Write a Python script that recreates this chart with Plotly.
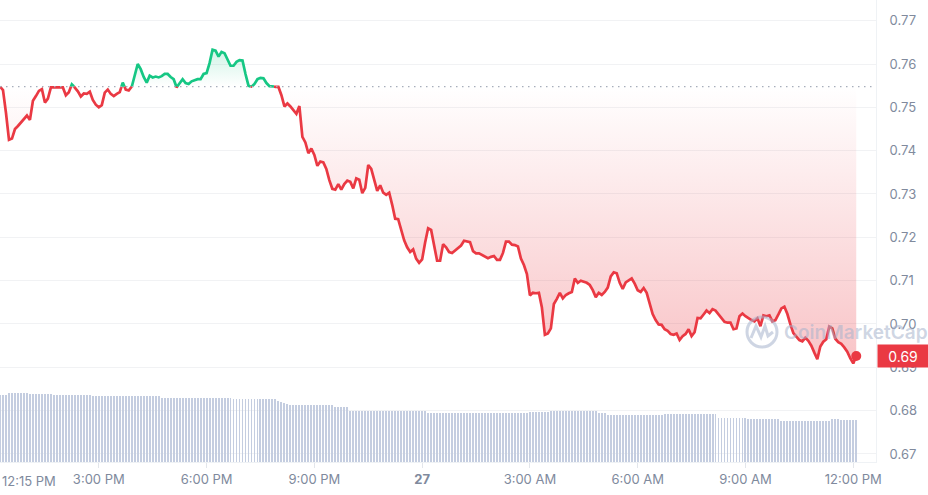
import pandas as pd
import plotly.graph_objects as go

# ---------------- data (5-minute candles, 12:15 PM on the 26th -> 12:05 PM on the 27th) ----------------
START = "2025-03-26 12:15"
STEP = "5min"
X_END = "2025-03-27 12:38"

price = [
    0.7548, 0.7540, 0.7487, 0.7425, 0.7428, 0.7450, 0.7457, 0.7465, 0.7472, 0.7481,
    0.7471, 0.7515, 0.7526, 0.7538, 0.7542, 0.7511, 0.7520, 0.7546, 0.7546, 0.7546,
    0.7546, 0.7546, 0.7528, 0.7535, 0.7553, 0.7546, 0.7537, 0.7525, 0.7532, 0.7531,
    0.7536, 0.7517, 0.7506, 0.7500, 0.7505, 0.7534, 0.7541, 0.7531, 0.7526, 0.7531,
    0.7535, 0.7557, 0.7541, 0.7539, 0.7547, 0.7576, 0.7600, 0.7588, 0.7570, 0.7557,
    0.7573, 0.7569, 0.7571, 0.7569, 0.7572, 0.7577, 0.7577, 0.7570, 0.7565, 0.7546,
    0.7556, 0.7565, 0.7556, 0.7554, 0.7560, 0.7563, 0.7565, 0.7565, 0.7577, 0.7579,
    0.7602, 0.7633, 0.7631, 0.7617, 0.7628, 0.7625, 0.7610, 0.7596, 0.7596, 0.7605,
    0.7609, 0.7608, 0.7577, 0.7550, 0.7547, 0.7554, 0.7565, 0.7568, 0.7567, 0.7556,
    0.7549, 0.7549, 0.7547, 0.7547, 0.7528, 0.7502, 0.7509, 0.7502, 0.7492, 0.7485,
    0.7503, 0.7432, 0.7419, 0.7394, 0.7405, 0.7390, 0.7365, 0.7375, 0.7373, 0.7358,
    0.7332, 0.7312, 0.7310, 0.7323, 0.7310, 0.7323, 0.7331, 0.7328, 0.7313, 0.7336,
    0.7333, 0.7302, 0.7314, 0.7367, 0.7358, 0.7330, 0.7307, 0.7320, 0.7303, 0.7298,
    0.7303, 0.7275, 0.7243, 0.7242, 0.7217, 0.7193, 0.7177, 0.7166, 0.7172, 0.7151,
    0.7141, 0.7149, 0.7188, 0.7221, 0.7217, 0.7181, 0.7146, 0.7146, 0.7184, 0.7177,
    0.7166, 0.7164, 0.7170, 0.7177, 0.7181, 0.7192, 0.7190, 0.7189, 0.7168, 0.7163,
    0.7163, 0.7159, 0.7154, 0.7152, 0.7155, 0.7157, 0.7148, 0.7148, 0.7164, 0.7190,
    0.7190, 0.7183, 0.7182, 0.7179, 0.7151, 0.7136, 0.7115, 0.7066, 0.7072, 0.7071,
    0.7072, 0.7038, 0.6975, 0.6978, 0.6990, 0.7046, 0.7058, 0.7072, 0.7059, 0.7067,
    0.7071, 0.7074, 0.7105, 0.7095, 0.7100, 0.7098, 0.7095, 0.7090, 0.7078, 0.7062,
    0.7072, 0.7067, 0.7074, 0.7084, 0.7110, 0.7119, 0.7117, 0.7095, 0.7081, 0.7096,
    0.7100, 0.7105, 0.7093, 0.7078, 0.7074, 0.7083, 0.7072, 0.7048, 0.7023, 0.7009,
    0.6999, 0.6998, 0.6988, 0.6984, 0.6977, 0.6975, 0.6978, 0.6963, 0.6972, 0.6977,
    0.6988, 0.6972, 0.6981, 0.7014, 0.7013, 0.7022, 0.7031, 0.7025, 0.7034, 0.7031,
    0.7022, 0.7014, 0.7005, 0.7003, 0.7003, 0.6988, 0.6990, 0.7018, 0.7024, 0.7018,
    0.7013, 0.7009, 0.7006, 0.7013, 0.6995, 0.7020, 0.7018, 0.7020, 0.7006, 0.7009,
    0.7022, 0.7036, 0.7040, 0.7023, 0.6999, 0.6979, 0.6971, 0.6963, 0.6960, 0.6968,
    0.6961, 0.6950, 0.6934, 0.6919, 0.6948, 0.6959, 0.6965, 0.6994, 0.6990, 0.6966,
    0.6958, 0.6954, 0.6946, 0.6936, 0.6921, 0.6909, 0.6926,
]

# 24h rolling volume (arbitrary units)
volume = [
    67.0, 67.0, 67.0, 68.7, 68.7, 68.7, 68.7, 68.7, 68.7, 68.7,
    67.7, 67.7, 67.7, 67.7, 67.7, 67.7, 67.7, 67.7, 66.7, 66.7,
    66.7, 66.7, 66.7, 66.7, 66.7, 66.7, 66.7, 66.7, 66.7, 66.7,
    66.7, 66.0, 66.0, 66.0, 66.0, 66.0, 66.0, 66.0, 66.0, 66.0,
    66.0, 66.0, 66.0, 66.0, 66.0, 66.0, 66.0, 66.0, 66.0, 66.0,
    66.0, 66.0, 66.0, 66.0, 64.3, 64.3, 64.3, 64.3, 64.3, 64.3,
    64.3, 64.3, 64.3, 64.3, 64.3, 64.3, 64.3, 64.3, 64.3, 64.3,
    64.3, 64.3, 64.3, 64.3, 64.3, 64.3, 64.3, 64.3, 63.0, 63.0,
    63.0, 63.0, 63.0, 63.0, 63.0, 63.0, 63.0, 63.0, 63.0, 63.0,
    63.0, 63.0, 63.0, 61.0, 60.0, 59.0, 58.0, 57.0, 57.0, 57.0,
    57.0, 57.0, 57.0, 57.0, 57.0, 57.0, 57.0, 57.0, 57.0, 57.0,
    57.0, 57.0, 54.7, 54.7, 54.7, 54.7, 54.7, 51.0, 51.0, 51.0,
    51.0, 51.0, 51.0, 51.0, 51.0, 51.0, 51.0, 51.0, 51.0, 51.0,
    51.0, 51.0, 51.0, 51.0, 51.0, 51.3, 51.3, 51.3, 51.3, 51.3,
    51.3, 51.3, 51.3, 49.3, 49.3, 49.3, 49.3, 49.3, 49.3, 49.3,
    49.3, 49.3, 49.3, 49.3, 48.7, 48.7, 48.7, 48.7, 48.7, 48.7,
    48.7, 48.7, 48.7, 48.7, 48.7, 48.7, 48.7, 48.7, 48.7, 48.7,
    48.7, 48.7, 48.7, 48.7, 48.7, 48.7, 48.7, 49.7, 49.7, 49.7,
    49.7, 49.7, 49.7, 49.7, 51.0, 51.0, 51.0, 51.0, 51.0, 51.0,
    51.0, 51.0, 51.0, 51.0, 51.0, 51.0, 51.0, 51.0, 51.0, 51.0,
    48.7, 48.7, 48.7, 47.0, 47.0, 47.0, 47.0, 47.0, 47.0, 47.0,
    47.0, 47.0, 47.0, 47.0, 47.0, 47.0, 47.0, 47.0, 47.0, 47.0,
    47.0, 47.0, 47.7, 47.7, 47.7, 47.7, 47.7, 47.7, 47.7, 47.7,
    47.7, 47.7, 47.7, 47.7, 47.7, 47.7, 47.7, 47.7, 47.7, 47.7,
    44.3, 44.3, 44.3, 44.3, 44.3, 44.3, 44.3, 44.3, 44.3, 44.3,
    42.7, 42.7, 42.7, 42.7, 42.7, 42.7, 42.7, 42.7, 42.7, 42.7,
    42.7, 41.3, 41.3, 41.3, 41.3, 41.3, 41.3, 41.3, 41.3, 41.3,
    41.3, 41.3, 41.3, 41.3, 41.3, 41.3, 41.3, 41.3, 42.7, 42.7,
    42.7, 41.7, 41.7, 41.7, 41.7, 41.7, 41.7,
]

x_tickvals = ["2025-03-26 15:00", "2025-03-26 18:00", "2025-03-26 21:00",
              "2025-03-27 00:00", "2025-03-27 03:00", "2025-03-27 06:00",
              "2025-03-27 09:00", "2025-03-27 12:00"]
x_ticktext = ["3:00 PM", "6:00 PM", "9:00 PM", "<b>27</b>", "3:00 AM",
              "6:00 AM", "9:00 AM", "12:00 PM"]
first_label = "12:15 PM"
y_tickvals = [0.67, 0.68, 0.69, 0.70, 0.71, 0.72, 0.73, 0.74, 0.75, 0.76, 0.77]
watermark = "CoinMarketCap"

# ---------------- styling ----------------
RED = "#ea3943"
GREEN = "#16c784"
TXT = "#808a9d"
FONT = "Inter"

times = list(pd.date_range(START, periods=len(price), freq=STEP))
base = price[0]

# split the series where it crosses the opening price
aug_t, aug_p = [times[0]], [price[0]]
for k in range(1, len(price)):
    p0, p1 = price[k - 1], price[k]
    t0, t1 = times[k - 1], times[k]
    if (p0 - base) * (p1 - base) < 0:
        f = (base - p0) / (p1 - p0)
        aug_t.append(t0 + (t1 - t0) * f)
        aug_p.append(base)
    aug_t.append(t1)
    aug_p.append(p1)

red_line = [p if p <= base else None for p in aug_p]
green_line = [p if p >= base else None for p in aug_p]
low = [min(p, base) for p in aug_p]
high = [max(p, base) for p in aug_p]
baseline = [base] * len(aug_p)

fig = go.Figure()

fig.add_trace(go.Bar(x=times[:len(volume)], y=volume, yaxis="y2", marker_color="#c4cde0",
                     marker_line_width=0, width=95000, hoverinfo="skip",
                     showlegend=False))

fig.add_trace(go.Scatter(x=aug_t, y=baseline, mode="lines", line_width=0,
                         hoverinfo="skip", showlegend=False))
fig.add_trace(go.Scatter(x=aug_t, y=low, mode="lines", line_width=0, fill="tonexty",
                         fillgradient=dict(type="vertical",
                                           colorscale=[[0, "rgba(234,57,67,0.30)"],
                                                       [1, "rgba(234,57,67,0.0)"]]),
                         hoverinfo="skip", showlegend=False))
fig.add_trace(go.Scatter(x=aug_t, y=baseline, mode="lines", line_width=0,
                         hoverinfo="skip", showlegend=False))
fig.add_trace(go.Scatter(x=aug_t, y=high, mode="lines", line_width=0, fill="tonexty",
                         fillgradient=dict(type="vertical",
                                           colorscale=[[0, "rgba(22,199,132,0.0)"],
                                                       [1, "rgba(22,199,132,0.20)"]]),
                         hoverinfo="skip", showlegend=False))

fig.add_trace(go.Scatter(x=aug_t, y=red_line, mode="lines",
                         line=dict(color=RED, width=2.7), connectgaps=False,
                         showlegend=False))
fig.add_trace(go.Scatter(x=aug_t, y=green_line, mode="lines",
                         line=dict(color=GREEN, width=2.7), connectgaps=False,
                         showlegend=False))
fig.add_trace(go.Scatter(x=[times[-1]], y=[price[-1]], mode="markers",
                         marker=dict(color=RED, size=10), showlegend=False))

# opening price dotted line
fig.add_shape(type="line", xref="paper", x0=0, x1=1, yref="y", y0=base, y1=base,
              line=dict(color="#a7aebb", width=1.2, dash="1.5px,4.5px"))

# watermark logo (pixel -> paper helpers)
PW, PH = 876.0, 462.0
def px(x):
    return x / PW
def py(y):
    return (PH - y) / PH

WM = "rgba(165,178,204,0.55)"
fig.add_shape(type="circle", xref="paper", yref="paper",
              x0=px(747), x1=px(777), y0=py(347), y1=py(317),
              line=dict(color=WM, width=3))
pts = [(751, 338), (756, 326), (761, 337), (765, 326), (768, 336), (773, 332)]
path = "M" + " L".join(f"{px(a):.4f},{py(b):.4f}" for a, b in pts)
fig.add_shape(type="path", xref="paper", yref="paper", path=path,
              line=dict(color=WM, width=3))
fig.add_annotation(xref="paper", yref="paper", x=px(782), y=py(332),
                   xanchor="left", yanchor="middle", text=watermark, showarrow=False,
                   font=dict(family=FONT, size=19, color=WM, weight=600))

# current price tag
fig.add_annotation(xref="paper", x=1, xanchor="left", xshift=1, yref="y",
                   y=price[-1], yanchor="middle", text=f"{price[-1]:.2f}",
                   showarrow=False, bgcolor=RED, width=46, height=18, borderpad=2,
                   font=dict(family=FONT, size=14, color="white"))

# first time label
fig.add_annotation(xref="paper", x=0, xanchor="left", yref="paper", y=0,
                   yanchor="top", yshift=-9, text=first_label, showarrow=False,
                   font=dict(family=FONT, size=13, color=TXT))

fig.update_layout(
    width=928, height=495,
    margin=dict(l=0, r=52, t=0, b=33),
    paper_bgcolor="white", plot_bgcolor="white",
    bargap=0,
    xaxis=dict(type="date", range=[START, X_END], tickvals=x_tickvals,
               ticktext=x_ticktext, ticks="outside", ticklen=5,
               tickcolor="#e3e6eb", showgrid=False, showline=True,
               linecolor="#eff2f5", zeroline=False,
               tickfont=dict(family=FONT, size=13, color=TXT)),
    yaxis=dict(side="right", range=[0.66815, 0.77477], tickvals=y_tickvals,
               ticktext=[f"{v:.2f}" for v in y_tickvals], showgrid=True,
               gridcolor="#f1f2f4", showline=True, linecolor="#eff2f5",
               zeroline=False, ticks="", ticklabelstandoff=10,
               tickfont=dict(family=FONT, size=13, color=TXT)),
    yaxis2=dict(overlaying="y", range=[0, 462], visible=False),
    showlegend=False,
)

fig.write_html("out.html", config={"displayModeBar": False},
               post_script="document.body.style.margin='0';document.body.style.overflow='hidden';")
